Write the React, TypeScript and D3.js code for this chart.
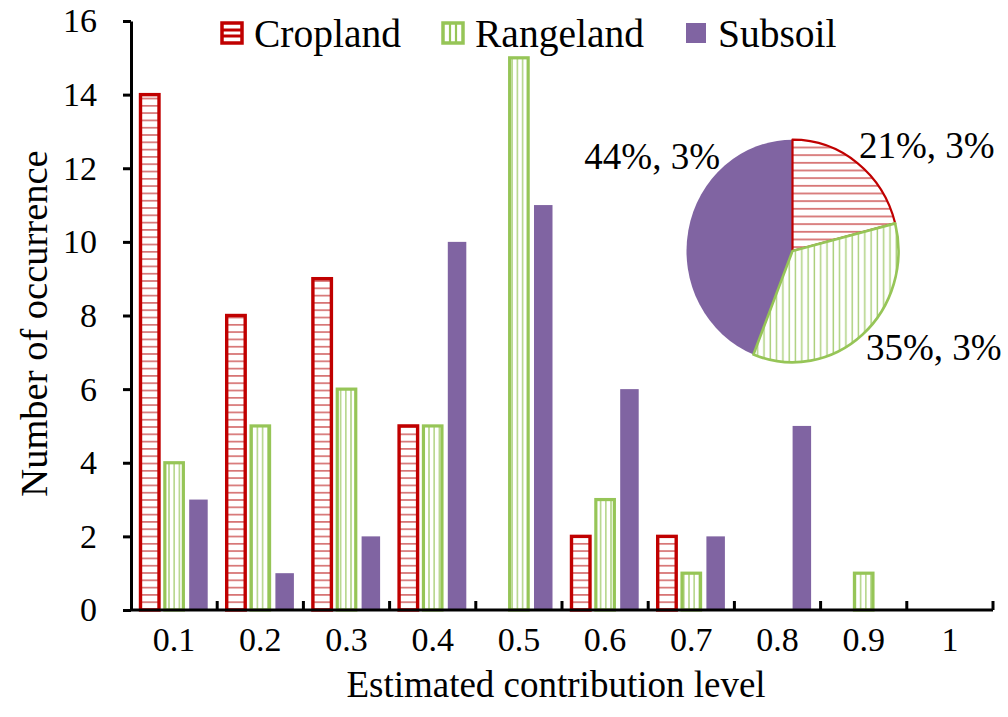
import * as d3 from 'd3';
import { useEffect, useRef } from 'react';

const categories = ['0.1', '0.2', '0.3', '0.4', '0.5', '0.6', '0.7', '0.8', '0.9', '1'];
const seriesNames = ['Cropland', 'Rangeland', 'Subsoil'];
const cropland = [14, 8, 9, 5, 0, 2, 2, 0, 0, 0];
const rangeland = [4, 5, 6, 5, 15, 3, 1, 0, 1, 0];
const subsoil = [3, 1, 2, 10, 11, 6, 2, 5, 0, 0];
const yTicks = [0, 2, 4, 6, 8, 10, 12, 14, 16];
const pieShares = [21, 35, 44];
const pieLabels = ['21%, 3%', '35%, 3%', '44%, 3%'];

const RED = '#C00000';
const RED_LIGHT = '#D46A6A';
const GREEN = '#96C557';
const GREEN_LIGHT = '#A9CF78';
const PURPLE = '#8064A2';
const FONT = 'Liberation Serif, DejaVu Serif, serif';

const W = 1008;
const H = 717;

export default function App() {
  const svgRef = useRef<SVGSVGElement>(null);

  useEffect(() => {
    document.body.style.margin = '0';
    if (!svgRef.current) return;
    const svg = d3.select(svgRef.current);
    svg.selectAll('*').remove();

    const defs = svg.append('defs');
    const hPat = defs.append('pattern')
      .attr('id', 'hstripe').attr('patternUnits', 'userSpaceOnUse')
      .attr('width', 8).attr('height', 7.3);
    hPat.append('rect').attr('width', 8).attr('height', 7.3).attr('fill', '#fff');
    hPat.append('line').attr('x1', 0).attr('x2', 8).attr('y1', 3.6).attr('y2', 3.6)
      .attr('stroke', RED_LIGHT).attr('stroke-width', 1.6);

    const vPat = defs.append('pattern')
      .attr('id', 'vstripe').attr('patternUnits', 'userSpaceOnUse')
      .attr('width', 5.2).attr('height', 8);
    vPat.append('rect').attr('width', 5.2).attr('height', 8).attr('fill', '#fff');
    vPat.append('line').attr('x1', 2.6).attr('x2', 2.6).attr('y1', 0).attr('y2', 8)
      .attr('stroke', GREEN_LIGHT).attr('stroke-width', 1.4);

    const vPatPie = defs.append('pattern')
      .attr('id', 'vstripePie').attr('patternUnits', 'userSpaceOnUse')
      .attr('width', 6.3).attr('height', 8);
    vPatPie.append('rect').attr('width', 6.3).attr('height', 8).attr('fill', '#fff');
    vPatPie.append('line').attr('x1', 3).attr('x2', 3).attr('y1', 0).attr('y2', 8)
      .attr('stroke', GREEN_LIGHT).attr('stroke-width', 1.4);

    const left = 131;
    const right = 993;
    const top = 21;
    const bottom = 610;

    const x = d3.scaleBand().domain(categories).range([left, right]);
    const x1 = d3.scaleBand().domain(seriesNames).range([0, x.bandwidth()])
      .paddingInner(0.24).paddingOuter(0.39);
    const y = d3.scaleLinear().domain([0, 16]).range([bottom, top]);

    const series = [
      { name: 'Cropland', values: cropland, fill: 'url(#hstripe)', stroke: RED, sw: 3.4 },
      { name: 'Rangeland', values: rangeland, fill: 'url(#vstripe)', stroke: GREEN, sw: 3.2 },
      { name: 'Subsoil', values: subsoil, fill: PURPLE, stroke: 'none', sw: 0 },
    ];

    series.forEach(s => {
      svg.append('g').selectAll('rect')
        .data(categories.map((c, i) => ({ c, v: s.values[i] })).filter(d => d.v > 0))
        .join('rect')
        .attr('x', d => (x(d.c) ?? 0) + (x1(s.name) ?? 0))
        .attr('y', d => y(d.v))
        .attr('width', x1.bandwidth())
        .attr('height', d => bottom - y(d.v))
        .attr('fill', s.fill)
        .attr('stroke', s.stroke)
        .attr('stroke-width', s.sw);
    });

    // y axis
    const yAxis = svg.append('g')
      .attr('transform', `translate(${left},0)`)
      .call(d3.axisLeft(y).tickValues(yTicks).tickSize(8).tickPadding(26).tickSizeOuter(0));
    yAxis.select('.domain').attr('stroke', '#000').attr('stroke-width', 3);
    yAxis.selectAll('.tick line').attr('stroke', '#000').attr('stroke-width', 3);
    yAxis.selectAll('.tick text')
      .style('font-family', FONT).attr('font-size', 34).attr('fill', '#000');

    // x axis with ticks between categories, pointing inward
    const xAxis = svg.append('g').attr('transform', `translate(0,${bottom})`);
    xAxis.append('line')
      .attr('x1', left).attr('x2', right).attr('stroke', '#000').attr('stroke-width', 3);
    xAxis.selectAll('.sep')
      .data(categories)
      .join('line')
      .attr('x1', d => (x(d) ?? 0) + x.bandwidth())
      .attr('x2', d => (x(d) ?? 0) + x.bandwidth())
      .attr('y1', 0).attr('y2', -9)
      .attr('stroke', '#000').attr('stroke-width', 3);
    xAxis.selectAll('text')
      .data(categories)
      .join('text')
      .attr('x', d => (x(d) ?? 0) + x.bandwidth() / 2)
      .attr('y', 41)
      .attr('text-anchor', 'middle')
      .style('font-family', FONT).attr('font-size', 34)
      .text(d => d);

    svg.append('text')
      .attr('x', (left + right) / 2 - 6)
      .attr('y', 697)
      .attr('text-anchor', 'middle')
      .style('font-family', FONT).attr('font-size', 37)
      .text('Estimated contribution level');

    svg.append('text')
      .attr('transform', `translate(47,${(top + bottom) / 2 + 8}) rotate(-90)`)
      .attr('text-anchor', 'middle')
      .style('font-family', FONT).attr('font-size', 38.5)
      .text('Number of occurrence');

    // legend
    const legendX = [222, 443, 686];
    const lg = svg.append('g');
    seriesNames.forEach((name, i) => {
      const bx = legendX[i];
      const g = lg.append('g').attr('transform', `translate(${bx},23)`);
      if (i === 0) {
        g.append('rect').attr('width', 20).attr('height', 20).attr('fill', '#fff')
          .attr('stroke', RED).attr('stroke-width', 3.5);
        [7, 13].forEach(ly => g.append('line').attr('x1', 0).attr('x2', 20)
          .attr('y1', ly).attr('y2', ly).attr('stroke', RED).attr('stroke-width', 3));
      } else if (i === 1) {
        g.append('rect').attr('width', 20).attr('height', 20).attr('fill', '#fff')
          .attr('stroke', GREEN).attr('stroke-width', 3.5);
        [7, 13].forEach(lx => g.append('line').attr('y1', 0).attr('y2', 20)
          .attr('x1', lx).attr('x2', lx).attr('stroke', GREEN).attr('stroke-width', 2.2));
      } else {
        g.append('rect').attr('width', 20).attr('height', 20).attr('fill', PURPLE);
      }
      lg.append('text')
        .attr('x', bx + 32).attr('y', 47)
        .style('font-family', FONT).attr('font-size', 39.5)
        .text(name);
    });

    // inset pie
    const cx = 792.5;
    const cy = 251;
    const r = 106;
    const pie = d3.pie<number>().sort(null)(pieShares);
    const arc = d3.arc<d3.PieArcDatum<number>>().innerRadius(0).outerRadius(r);
    const pieStyles = [
      { fill: 'url(#hstripe)', stroke: RED, sw: 2.2 },
      { fill: 'url(#vstripePie)', stroke: GREEN, sw: 2.6 },
      { fill: PURPLE, stroke: 'none', sw: 0 },
    ];
    const pg = svg.append('g').attr('transform', `translate(${cx},${cy}) scale(1,1.05)`);
    [2, 0, 1].forEach(i => {
      pg.append('path')
        .attr('d', arc(pie[i]) ?? '')
        .attr('fill', pieStyles[i].fill)
        .attr('stroke', pieStyles[i].stroke)
        .attr('stroke-width', pieStyles[i].sw)
        .attr('stroke-linejoin', 'round');
    });

    const labelPos = [
      { x: 859, y: 158, anchor: 'start' },
      { x: 866, y: 360, anchor: 'start' },
      { x: 720, y: 169, anchor: 'end' },
    ];
    pieLabels.forEach((t, i) => {
      svg.append('text')
        .attr('x', labelPos[i].x).attr('y', labelPos[i].y)
        .attr('text-anchor', labelPos[i].anchor)
        .style('font-family', FONT).attr('font-size', 37)
        .text(t);
    });
  }, []);

  return <svg ref={svgRef} width={W} height={H} style={{ display: 'block', background: '#fff' }} />;
}
